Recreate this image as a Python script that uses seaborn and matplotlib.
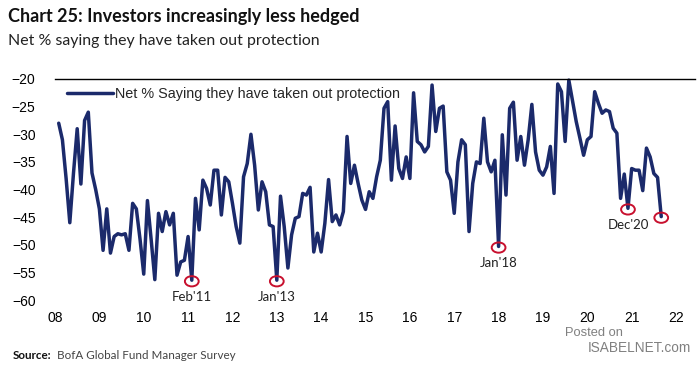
import numpy as np
import pandas as pd
import matplotlib.pyplot as plt
from matplotlib.patches import Ellipse
import seaborn as sns

# monthly readings, Feb 2008 .. Sep 2021
start = "2008-02-01"
net_protection = [
    -28, -31, -38, -46, -37, -29, -39, -27.5, -26, -37, -40,            # 2008
    -43.5, -51, -43.5, -51.5, -48.5, -48, -48.2, -48, -51, -42.5, -43.5, -49,  # 2009
    -55.3, -42, -49, -56.3, -44.3, -47.6, -44, -46.4, -44.3, -55.5, -53.1, -52.8,  # 2010
    -48.5, -56.4, -41.6, -47.3, -38.3, -39.8, -42.8, -36.5, -36.5, -44.6, -37.8, -38.6,  # 2011
    -42.5, -46.7, -49.7, -37.7, -35.3, -30, -35.6, -43.7, -38.6, -40.4, -46.4, -46.7,  # 2012
    -56.4, -41.2, -46.7, -54.2, -48.2, -45.2, -44.9, -40.7, -41, -39.6, -51.3, -47.9,  # 2013
    -51.3, -46.1, -38.2, -45.8, -44.6, -46.4, -44, -30.4, -38.9, -35.6, -38.9, -41.9,  # 2014
    -43.6, -40.4, -41.6, -37.7, -34.7, -25.3, -24.1, -38.3, -28.5, -36.2, -38, -34.1,  # 2015
    -38, -22.5, -31.3, -31.9, -33.2, -32.2, -21.1, -29.5, -25.3, -24.9, -36.8, -38.3,  # 2016
    -44.3, -35, -31, -31.9, -47.6, -38.9, -35, -35.3, -27.1, -35, -36.8, -34.7,  # 2017
    -50.3, -30.1, -41, -25.3, -24.2, -34.7, -30.4, -35.6, -31, -24.6, -33.2, -36.5,  # 2018
    -37.4, -35.9, -32.2, -40.7, -20.9, -22.3, -31.3, -20.2, -24, -27.7, -30.7, -33.8,  # 2019
    -31, -30.4, -22.3, -24.4, -26.2, -25.6, -25.9, -28.9, -29.8, -41.6, -37.2, -43.4,  # 2020
    -36.2, -36.5, -36.5, -40.2, -32.5, -34.1, -37.1, -37.8, -44.9,  # 2021
]

low_dates = ["2011-02-01", "2013-01-01", "2018-01-01", "2020-12-01", "2021-09-01"]
low_labels = ["Feb'11", "Jan'13", "Jan'18", "Dec'20", ""]

year_ticks = list(range(2008, 2023))
year_labels = [f"{y % 100:02d}" for y in year_ticks]
y_ticks = [-60, -55, -50, -45, -40, -35, -30, -25, -20]


def frac_year(d):
    d = pd.Timestamp(d)
    return d.year + (d.month - 1) / 12


dates = pd.date_range(start, periods=len(net_protection), freq="MS")
df = pd.DataFrame({"x": [frac_year(d) for d in dates], "value": net_protection})
lookup = dict(zip(df["x"].round(4), df["value"]))

sns.set_style("white")
plt.rcParams["font.family"] = ["Liberation Sans", "DejaVu Sans"]

navy = "#1b2a6b"
red = "#c8102e"

fig = plt.figure(figsize=(7, 3.7), dpi=100)
ax = fig.add_axes([0.0786, 0.189, 0.9144, 0.5975])

sns.lineplot(data=df, x="x", y="value", ax=ax, color=navy, linewidth=2.5,
             label="Net % Saying they have taken out protection", clip_on=False)

for d, lab in zip(low_dates, low_labels):
    xv = frac_year(d)
    yv = lookup[round(xv, 4)]
    ax.add_patch(Ellipse((xv, yv - 0.2), width=0.31, height=1.85, fill=False,
                         edgecolor=red, linewidth=1.4, clip_on=False, zorder=5))
    if lab:
        ax.annotate(lab, (xv, yv), xytext=(0, -12), textcoords="offset points",
                    ha="center", va="center", fontsize=9.5, family="Lato",
                    color="#222222")

ax.set_xlim(2008, 2022.43)
ax.set_ylim(-60, -20)
ax.set_xticks(year_ticks)
ax.set_xticklabels(year_labels)
ax.set_yticks(y_ticks)
ax.set_xlabel("")
ax.set_ylabel("")
ax.tick_params(axis="both", length=0, labelsize=10, colors="black")
ax.tick_params(axis="x", pad=8)
ax.tick_params(axis="y", pad=14)
for s in ["left", "right", "bottom"]:
    ax.spines[s].set_visible(False)
ax.spines["top"].set_color("black")
ax.spines["top"].set_linewidth(1.0)

ax.legend(loc="upper left", bbox_to_anchor=(0.01, 0.99), frameon=False,
          handlelength=3.2, handletextpad=0.1, fontsize=10.4, borderaxespad=0)

fig.text(0.011, 0.955, "Chart 25: Investors increasingly less hedged", family="Lato",
         fontweight="bold", fontsize=13, color="#111111", va="center")
fig.text(0.011, 0.888, "Net % saying they have taken out protection", family="Lato",
         fontsize=11.4, color="#222222", va="center")
fig.text(0.018, 0.038, "Source:", family="Lato", fontweight="bold", fontsize=8.4,
         color="#111111", va="center")
fig.text(0.082, 0.038, "BofA Global Fund Manager Survey", family="Lato", fontsize=8.4,
         color="#444444", va="center")
fig.text(0.807, 0.099, "Posted on", fontsize=9.3, color="#808080", va="center")
fig.text(0.840, 0.060, "ISABELNET.com", fontsize=9.8, color="#808080", va="center")

fig.savefig("out.png", dpi=100)
